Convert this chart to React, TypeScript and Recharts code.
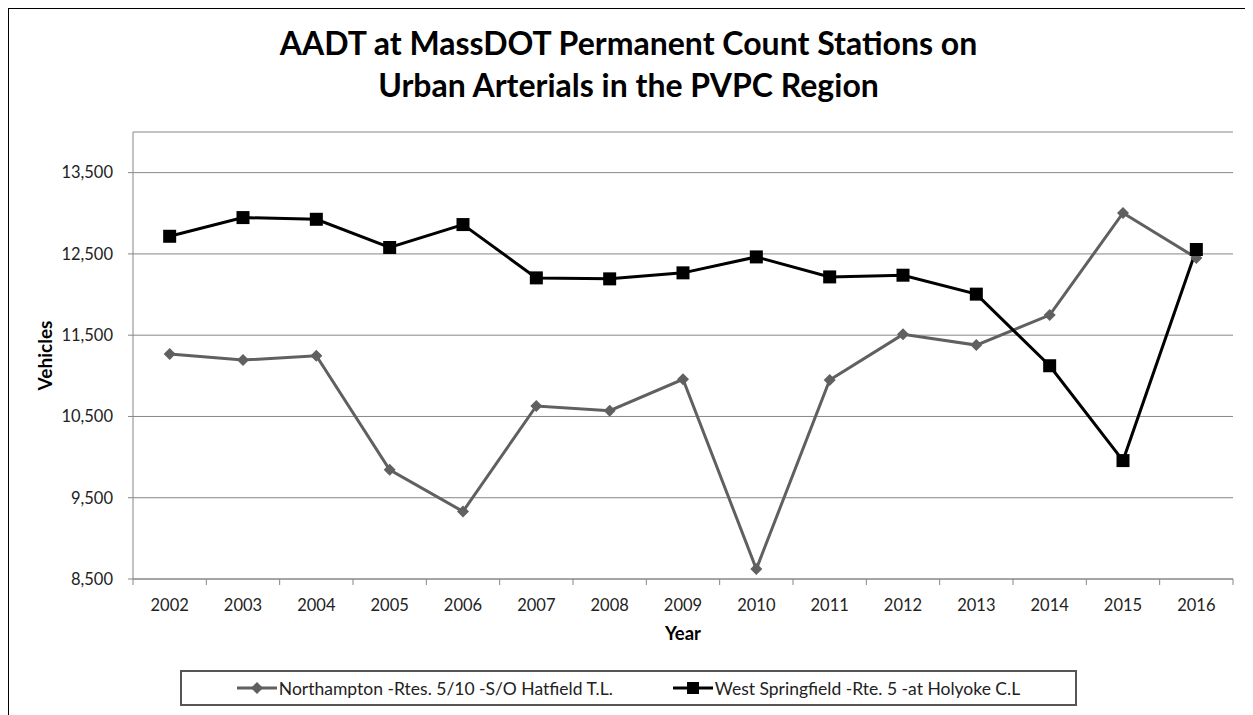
import React from 'react';
import {
    LineChart,
    Line,
    XAxis,
    YAxis,
    CartesianGrid,
    Legend,
} from 'recharts';

const years = ['2002', '2003', '2004', '2005', '2006', '2007', '2008', '2009', '2010', '2011', '2012', '2013', '2014', '2015', '2016'];
const northampton = [11268, 11194, 11247, 9843, 9331, 10629, 10571, 10957, 8623, 10948, 11510, 11378, 11747, 13004, 12451];
const westSpringfield = [12717, 12947, 12926, 12579, 12861, 12205, 12193, 12267, 12463, 12217, 12238, 12005, 11124, 9957, 12554];
const yTicks = [8500, 9500, 10500, 11500, 12500, 13500];

const northLabel = 'Northampton -Rtes. 5/10 -S/O Hatfield T.L.';
const westLabel = 'West Springfield -Rte. 5 -at Holyoke C.L';

const GRAY = '#606060';
const BLACK = '#000000';
const GRID = '#868686';
const FONT = 'Lato, "Open Sans", sans-serif';

const chartData = years.map((year, i) => ({
    year,
    north: northampton[i],
    west: westSpringfield[i],
}));

const W = 1239;
const H = 712;

function Diamond({ cx, cy, fill }: any) {
    if (cx == null || cy == null) return null;
    const r = 6;
    return (
        <polygon
            points={`${cx},${cy - r} ${cx + r},${cy} ${cx},${cy + r} ${cx - r},${cy}`}
            fill={fill}
        />
    );
}

function Square({ cx, cy, fill }: any) {
    if (cx == null || cy == null) return null;
    const s = 13;
    return <rect x={cx - s / 2} y={cy - s / 2} width={s} height={s} fill={fill} />;
}

// Excel-style ticks: marks sit between the categories, labels in the middle
function YearTick(props: any) {
    const { x, y, payload, index } = props;
    const half = payload && payload.offset ? payload.offset : (W - 24 - 100 - 15) / years.length / 2;
    return (
        <g>
            <line x1={x - half} x2={x - half} y1={y} y2={y + 6} stroke={GRID} />
            {index === years.length - 1 && (
                <line x1={x + half} x2={x + half} y1={y} y2={y + 6} stroke={GRID} />
            )}
            <text
                x={x}
                y={y + 20}
                dy="0.71em"
                textAnchor="middle"
                fontSize={16.5}
                fontFamily={FONT}
                fill="#222"
            >
                {payload.value}
            </text>
        </g>
    );
}

function VehiclesLabel({ viewBox }: any) {
    const cx = viewBox.x + 11;
    const cy = viewBox.y + viewBox.height / 2;
    return (
        <text
            x={cx}
            y={cy}
            transform={`rotate(-90, ${cx}, ${cy})`}
            textAnchor="middle"
            dominantBaseline="central"
            fontSize={19}
            fontWeight="bold"
            fontFamily={FONT}
            fill="#000"
        >
            Vehicles
        </text>
    );
}

function LegendIcon({ color, square }: { color: string; square: boolean }) {
    return (
        <svg width={40} height={14} style={{ display: 'block' }}>
            <line x1={0} x2={40} y1={7} y2={7} stroke={color} strokeWidth={3} />
            {square ? (
                <rect x={14} y={1} width={12} height={12} fill={color} />
            ) : (
                <polygon points="20,1 26,7 20,13 14,7" fill={color} />
            )}
        </svg>
    );
}

function LegendBox() {
    const items = [
        { label: northLabel, color: GRAY, square: false },
        { label: westLabel, color: BLACK, square: true },
    ];
    return (
        <div
            style={{
                boxSizing: 'border-box',
                height: 36,
                border: '2px solid #555',
                display: 'flex',
                alignItems: 'center',
                justifyContent: 'center',
                gap: 60,
                fontFamily: FONT,
                fontSize: 17.5,
                color: '#222',
            }}
        >
            {items.map((item) => (
                <div key={item.label} style={{ display: 'flex', alignItems: 'center', gap: 2 }}>
                    <LegendIcon color={item.color} square={item.square} />
                    <span>{item.label}</span>
                </div>
            ))}
        </div>
    );
}

export default function App() {
    return (
        <div
            style={{
                position: 'relative',
                marginLeft: -2,
                marginTop: -2,
                width: W,
                height: H,
                border: '3px solid #000',
                borderBottom: 'none',
                background: '#fff',
                fontFamily: FONT,
            }}
        >
            <div
                style={{
                    position: 'absolute',
                    top: 13,
                    left: 0,
                    width: W,
                    textAlign: 'center',
                    fontSize: 32,
                    lineHeight: '42px',
                    fontWeight: 'bold',
                    color: '#000',
                    zIndex: 2,
                }}
            >
                AADT at MassDOT Permanent Count Stations on
                <br />
                Urban Arterials in the PVPC Region
            </div>
            <LineChart
                width={W}
                height={H}
                data={chartData}
                margin={{ top: 123, right: 15, left: 24, bottom: 40 }}
            >
                <CartesianGrid vertical={false} stroke={GRID} />
                <XAxis
                    dataKey="year"
                    scale="band"
                    height={66}
                    axisLine={{ stroke: GRID }}
                    tickLine={false}
                    tickSize={0}
                    tickMargin={0}
                    interval={0}
                    tick={<YearTick />}
                    label={{
                        value: 'Year',
                        position: 'insideBottom',
                        offset: 5,
                        fontSize: 18.5,
                        fontWeight: 'bold',
                        fontFamily: FONT,
                        fill: '#000',
                    }}
                />
                <YAxis
                    width={100}
                    domain={[8500, 14000]}
                    ticks={yTicks}
                    interval={0}
                    allowDataOverflow
                    axisLine={{ stroke: GRID }}
                    tickLine={{ stroke: GRID }}
                    tickSize={5}
                    tickMargin={15}
                    tickFormatter={(v: number) => v.toLocaleString('en-US')}
                    tick={{ fontSize: 16.5, fontFamily: FONT, fill: '#222' }}
                    label={<VehiclesLabel />}
                />
                <Legend
                    verticalAlign="bottom"
                    content={() => <LegendBox />}
                    wrapperStyle={{ left: 171, top: 661, width: 897, bottom: 'auto' }}
                />
                <Line
                    dataKey="north"
                    name={northLabel}
                    stroke={GRAY}
                    strokeWidth={3}
                    dot={(p: any) => <Diamond key={`n-${p.index}`} cx={p.cx} cy={p.cy} fill={GRAY} />}
                    activeDot={false}
                    isAnimationActive={false}
                />
                <Line
                    dataKey="west"
                    name={westLabel}
                    stroke={BLACK}
                    strokeWidth={3}
                    dot={(p: any) => <Square key={`w-${p.index}`} cx={p.cx} cy={p.cy} fill={BLACK} />}
                    activeDot={false}
                    isAnimationActive={false}
                />
            </LineChart>
        </div>
    );
}
